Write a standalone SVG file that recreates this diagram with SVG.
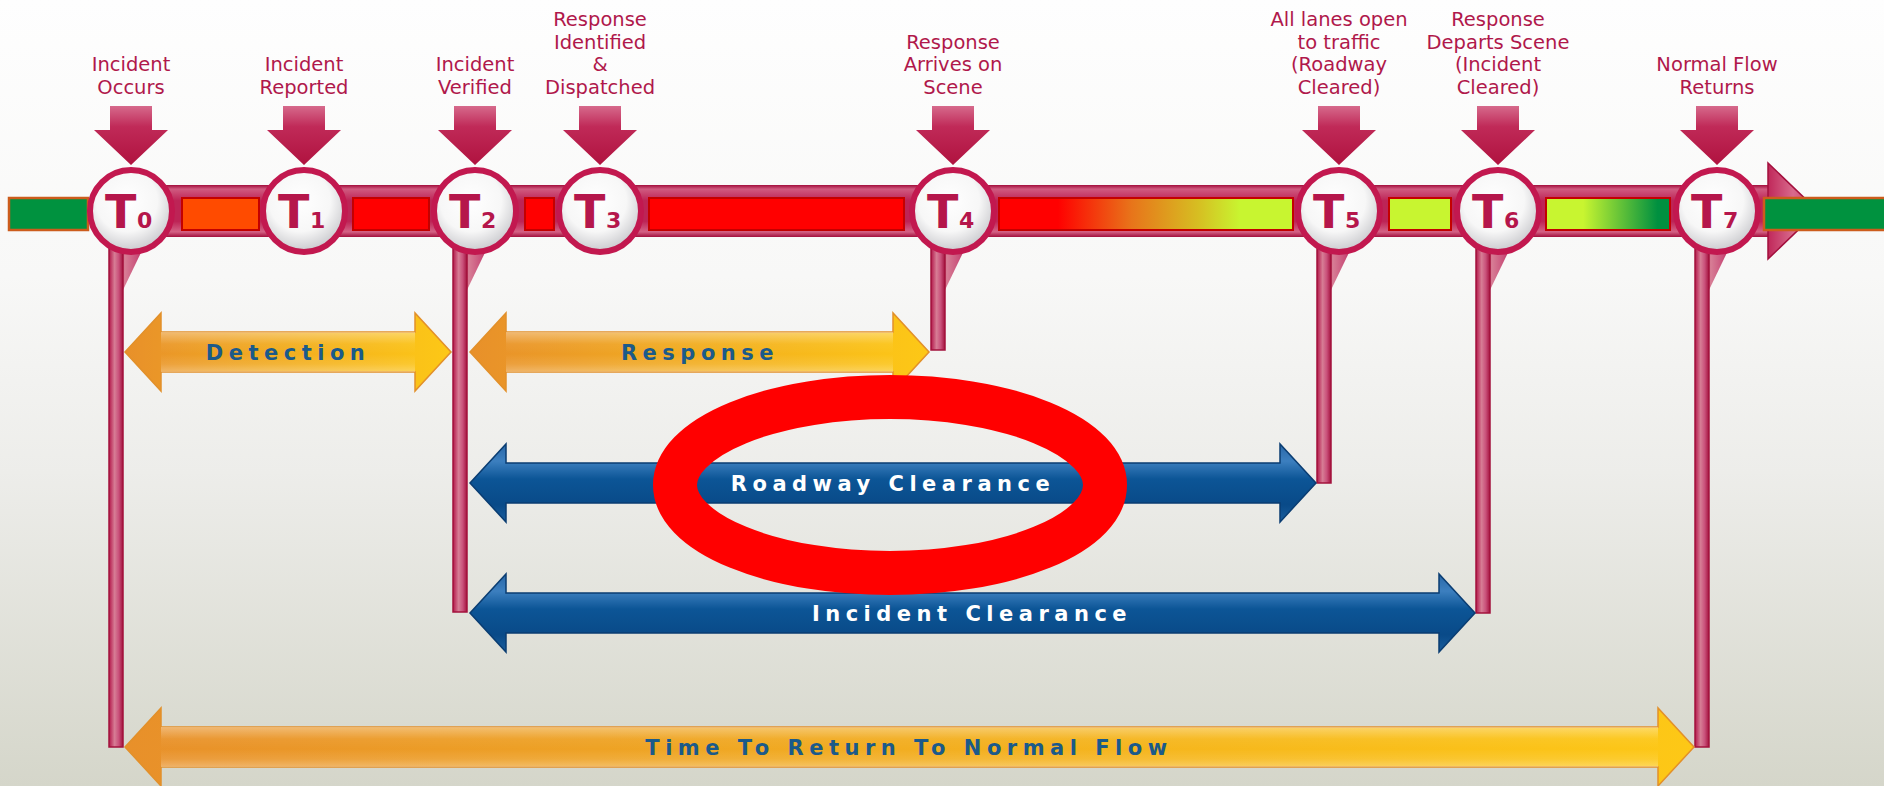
<svg xmlns="http://www.w3.org/2000/svg" xmlns:xlink="http://www.w3.org/1999/xlink" width="1884" height="786" viewBox="0 0 1884 786">
<defs>
<style>
.lbl{font-family:"DejaVu Sans","Liberation Sans",sans-serif;font-size:19.5px;fill:#b0184b;text-anchor:middle}
.tb{font-family:"DejaVu Sans","Liberation Sans",sans-serif;font-weight:bold;fill:#b5164b}
.tbig{font-size:46px}
.tsub{font-size:22px}
.circ{fill:url(#gCirc);stroke:#c2184f;stroke-width:6}
.dn{fill:url(#gDown)}
.vline{fill:url(#gLine);stroke:#a3123d;stroke-width:1.5}
.tail{fill:url(#gLine)}
.seg{stroke:#c40000;stroke-width:2}
.grn{fill:#00923f;stroke:#cc5c1c;stroke-width:2.5}
.yarr{fill:url(#gYel);stroke:#e2902a;stroke-width:1.5}
.barr{fill:url(#gBlue);stroke:#0a3d72;stroke-width:1.5}
.gloss{fill:url(#gGloss);stroke:none}
.at{font-family:"DejaVu Sans","Liberation Sans",sans-serif;font-weight:bold;font-size:21px;letter-spacing:5.5px;text-anchor:middle}
.aty{fill:#1b5a8a}
.atb{fill:#ffffff}
</style>
<linearGradient id="gBg" x1="0" y1="0" x2="0" y2="1">
<stop offset="0" stop-color="#fefefe"/><stop offset="0.35" stop-color="#f8f8f7"/><stop offset="0.6" stop-color="#ededea"/><stop offset="1" stop-color="#d5d6ca"/>
</linearGradient>
<linearGradient id="gBar" gradientUnits="userSpaceOnUse" x1="0" y1="185" x2="0" y2="237">
<stop offset="0" stop-color="#a30f3d"/><stop offset="0.08" stop-color="#d05a80"/><stop offset="0.3" stop-color="#bd2456"/><stop offset="0.7" stop-color="#bd2456"/><stop offset="0.9" stop-color="#d46285"/><stop offset="1" stop-color="#a30f3d"/>
</linearGradient>
<linearGradient id="gHead" x1="0" y1="0" x2="1" y2="0">
<stop offset="0" stop-color="#c0285a"/><stop offset="0.5" stop-color="#d86a8c"/><stop offset="1" stop-color="#c63a66"/>
</linearGradient>
<radialGradient id="gCirc" cx="0.45" cy="0.38" r="0.62">
<stop offset="0" stop-color="#ffffff"/><stop offset="0.6" stop-color="#f7f7f7"/><stop offset="1" stop-color="#c9c9cd"/>
</radialGradient>
<linearGradient id="gDown" x1="0" y1="0" x2="0" y2="1">
<stop offset="0" stop-color="#d66a8c"/><stop offset="0.35" stop-color="#c02a58"/><stop offset="1" stop-color="#b0123f"/>
</linearGradient>
<linearGradient id="gLine" x1="0" y1="0" x2="1" y2="0">
<stop offset="0" stop-color="#b3174a"/><stop offset="0.4" stop-color="#d77d95"/><stop offset="0.7" stop-color="#c9507a"/><stop offset="1" stop-color="#a3123d"/>
</linearGradient>
<linearGradient id="gG1" x1="0" y1="0" x2="1" y2="0">
<stop offset="0" stop-color="#ff0000"/><stop offset="0.2" stop-color="#ff0000"/><stop offset="0.45" stop-color="#e8741a"/><stop offset="0.68" stop-color="#d6bf22"/><stop offset="0.82" stop-color="#c8f530"/><stop offset="1" stop-color="#c8f530"/>
</linearGradient>
<linearGradient id="gG2" x1="0" y1="0" x2="1" y2="0">
<stop offset="0" stop-color="#c8f530"/><stop offset="0.3" stop-color="#c8f530"/><stop offset="0.9" stop-color="#009040"/><stop offset="1" stop-color="#009040"/>
</linearGradient>
<linearGradient id="gYel" x1="0" y1="0" x2="1" y2="0">
<stop offset="0" stop-color="#e8902a"/><stop offset="0.4" stop-color="#f0a822"/><stop offset="1" stop-color="#fdc816"/>
</linearGradient>
<linearGradient id="gGloss" x1="0" y1="0" x2="0" y2="1">
<stop offset="0" stop-color="#ffffff" stop-opacity="0.35"/><stop offset="0.3" stop-color="#ffffff" stop-opacity="0.05"/><stop offset="0.55" stop-color="#ffffff" stop-opacity="0"/><stop offset="0.8" stop-color="#ffffff" stop-opacity="0.1"/><stop offset="1" stop-color="#ffffff" stop-opacity="0.3"/>
</linearGradient>
<linearGradient id="gBlue" x1="0" y1="0" x2="0" y2="1">
<stop offset="0" stop-color="#2a68a8"/><stop offset="0.22" stop-color="#3c7fbf"/><stop offset="0.45" stop-color="#0c5596"/><stop offset="0.78" stop-color="#094a88"/><stop offset="1" stop-color="#1a5e9e"/>
</linearGradient>
<path id="dnArrow" d="M-21,106 H21 V130 H37 L0,165 L-37,130 H-21 Z"/>
<path id="tailShape" d="M-22,236 H18 L-8,290 H-22 Z"/>
</defs>

<rect width="1884" height="786" fill="url(#gBg)"/>

<g id="connectors">
<use href="#tailShape" x="131" class="tail"/>
<rect class="vline" x="109" y="241" width="14" height="506"/>
<use href="#tailShape" x="475" class="tail"/>
<rect class="vline" x="453" y="241" width="14" height="371"/>
<use href="#tailShape" x="953" class="tail"/>
<rect class="vline" x="931" y="241" width="14" height="109"/>
<use href="#tailShape" x="1339" class="tail"/>
<rect class="vline" x="1317" y="241" width="14" height="242"/>
<use href="#tailShape" x="1498" class="tail"/>
<rect class="vline" x="1476" y="241" width="14" height="372"/>
<use href="#tailShape" x="1717" class="tail"/>
<rect class="vline" x="1695" y="241" width="14" height="506"/>
</g>

<g id="timeline">
<rect x="120" y="185" width="1650" height="52" fill="url(#gBar)"/>
<path d="M1768,185 V163 L1818,211 L1768,259 V237 Z" fill="url(#gHead)" stroke="#a30f3d" stroke-width="1.5"/>
<rect class="grn" x="9" y="198" width="79" height="32"/>
<rect class="seg" x="182" y="198" width="77" height="32" fill="#ff4b00"/>
<rect class="seg" x="353" y="198" width="76" height="32" fill="#ff0000"/>
<rect class="seg" x="525" y="198" width="29" height="32" fill="#ff0000"/>
<rect class="seg" x="649" y="198" width="255" height="32" fill="#ff0000"/>
<rect class="seg" x="999" y="198" width="294" height="32" fill="url(#gG1)"/>
<rect class="seg" x="1389" y="198" width="62" height="32" fill="#c8f530"/>
<rect class="seg" x="1546" y="198" width="124" height="32" fill="url(#gG2)"/>
<rect class="grn" x="1764" y="198" width="125" height="32"/>
</g>

<g id="node-t0">
<use href="#dnArrow" x="131" class="dn"/>
<circle class="circ" cx="131" cy="211" r="41"/>
<text class="tb tbig" x="105" y="228">T</text><text class="tb tsub" x="137" y="228">0</text>
<text class="lbl" x="131" y="71">Incident</text><text class="lbl" x="131" y="93.5">Occurs</text>
</g>
<g id="node-t1">
<use href="#dnArrow" x="304" class="dn"/>
<circle class="circ" cx="304" cy="211" r="41"/>
<text class="tb tbig" x="278" y="228">T</text><text class="tb tsub" x="310" y="228">1</text>
<text class="lbl" x="304" y="71">Incident</text><text class="lbl" x="304" y="93.5">Reported</text>
</g>
<g id="node-t2">
<use href="#dnArrow" x="475" class="dn"/>
<circle class="circ" cx="475" cy="211" r="41"/>
<text class="tb tbig" x="449" y="228">T</text><text class="tb tsub" x="481" y="228">2</text>
<text class="lbl" x="475" y="71">Incident</text><text class="lbl" x="475" y="93.5">Verified</text>
</g>
<g id="node-t3">
<use href="#dnArrow" x="600" class="dn"/>
<circle class="circ" cx="600" cy="211" r="41"/>
<text class="tb tbig" x="574" y="228">T</text><text class="tb tsub" x="606" y="228">3</text>
<text class="lbl" x="600" y="26">Response</text><text class="lbl" x="600" y="48.5">Identified</text><text class="lbl" x="600" y="71">&amp;</text><text class="lbl" x="600" y="93.5">Dispatched</text>
</g>
<g id="node-t4">
<use href="#dnArrow" x="953" class="dn"/>
<circle class="circ" cx="953" cy="211" r="41"/>
<text class="tb tbig" x="927" y="228">T</text><text class="tb tsub" x="959" y="228">4</text>
<text class="lbl" x="953" y="48.5">Response</text><text class="lbl" x="953" y="71">Arrives on</text><text class="lbl" x="953" y="93.5">Scene</text>
</g>
<g id="node-t5">
<use href="#dnArrow" x="1339" class="dn"/>
<circle class="circ" cx="1339" cy="211" r="41"/>
<text class="tb tbig" x="1313" y="228">T</text><text class="tb tsub" x="1345" y="228">5</text>
<text class="lbl" x="1339" y="26">All lanes open</text><text class="lbl" x="1339" y="48.5">to traffic</text><text class="lbl" x="1339" y="71">(Roadway</text><text class="lbl" x="1339" y="93.5">Cleared)</text>
</g>
<g id="node-t6">
<use href="#dnArrow" x="1498" class="dn"/>
<circle class="circ" cx="1498" cy="211" r="41"/>
<text class="tb tbig" x="1472" y="228">T</text><text class="tb tsub" x="1504" y="228">6</text>
<text class="lbl" x="1498" y="26">Response</text><text class="lbl" x="1498" y="48.5">Departs Scene</text><text class="lbl" x="1498" y="71">(Incident</text><text class="lbl" x="1498" y="93.5">Cleared)</text>
</g>
<g id="node-t7">
<use href="#dnArrow" x="1717" class="dn"/>
<circle class="circ" cx="1717" cy="211" r="41"/>
<text class="tb tbig" x="1691" y="228">T</text><text class="tb tsub" x="1723" y="228">7</text>
<text class="lbl" x="1717" y="71">Normal Flow</text><text class="lbl" x="1717" y="93.5">Returns</text>
</g>

<g id="span-detection">
<path class="yarr" d="M125,352 L161,313 V332 H415 V313 L451,352 L415,391 V372 H161 V391 Z"/>
<path class="gloss" d="M161,332 H415 V372 H161 Z"/>
<text class="at aty" x="288" y="359.5">Detection</text>
</g>
<g id="span-response">
<path class="yarr" d="M470,352 L506,313 V332 H893 V313 L929,352 L893,391 V372 H506 V391 Z"/>
<path class="gloss" d="M506,332 H893 V372 H506 Z"/>
<text class="at aty" x="700" y="359.5">Response</text>
</g>
<g id="span-roadway">
<path class="barr" d="M470,483 L506,444 V463 H1280 V444 L1316,483 L1280,522 V503 H506 V522 Z"/>
<text class="at atb" x="893" y="490.5">Roadway Clearance</text>
</g>
<g id="span-incident">
<path class="barr" d="M470,613 L506,574 V593 H1439 V574 L1475,613 L1439,652 V633 H506 V652 Z"/>
<text class="at atb" x="972" y="620.5">Incident Clearance</text>
</g>
<g id="span-normal">
<path class="yarr" d="M125,747 L161,708 V727 H1658 V708 L1694,747 L1658,786 V767 H161 V786 Z"/>
<path class="gloss" d="M161,727 H1658 V767 H161 Z"/>
<text class="at aty" x="909" y="754.5">Time To Return To Normal Flow</text>
</g>

<g id="highlight">
<ellipse cx="890" cy="485" rx="215" ry="88" fill="none" stroke="#ff0000" stroke-width="44"/>
</g>
</svg>
